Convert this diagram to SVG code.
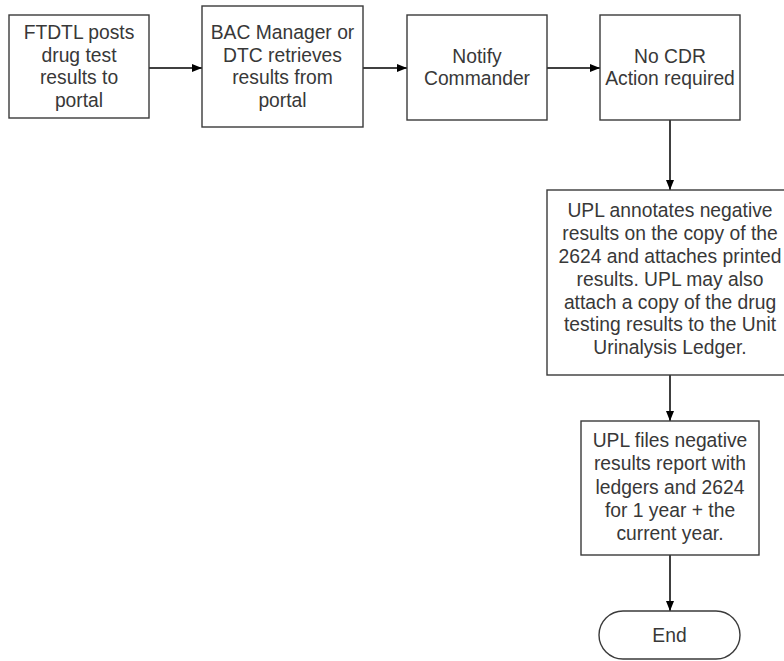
<svg xmlns="http://www.w3.org/2000/svg" width="784" height="661" viewBox="0 0 784 661">
<style>
.box{fill:#fff;stroke:#3a3a3a;stroke-width:1.4}
.t{font-family:"Liberation Sans",Arial,sans-serif;font-size:19.3px;fill:#383838;text-anchor:middle}
.c{fill:none;stroke:#000;stroke-width:1.5}
</style>
<defs>
<marker id="ah" viewBox="0 0 10 10" refX="10" refY="5" markerWidth="10" markerHeight="10" markerUnits="userSpaceOnUse" orient="auto">
<path d="M0,1 L10,5 L0,9 Z" fill="#000"/>
</marker>
</defs>
<rect width="784" height="661" fill="#fff"/>
<g id="connectors">
<line class="c" x1="149" y1="68" x2="202" y2="68" marker-end="url(#ah)"/>
<line class="c" x1="363" y1="68" x2="407" y2="68" marker-end="url(#ah)"/>
<line class="c" x1="547" y1="68" x2="600" y2="68" marker-end="url(#ah)"/>
<line class="c" x1="670" y1="120" x2="670" y2="190" marker-end="url(#ah)"/>
<line class="c" x1="670" y1="375" x2="670" y2="421" marker-end="url(#ah)"/>
<line class="c" x1="670" y1="555" x2="670" y2="611" marker-end="url(#ah)"/>
</g>
<g id="n1">
<rect class="box" x="9" y="15" width="140" height="103"/>
<text class="t" x="79"><tspan x="79" y="39">FTDTL posts</tspan><tspan x="79" y="61.5">drug test</tspan><tspan x="79" y="84">results to</tspan><tspan x="79" y="106.5">portal</tspan></text>
</g>
<g id="n2">
<rect class="box" x="202" y="6" width="161" height="121"/>
<text class="t" x="282.5"><tspan x="282.5" y="39">BAC Manager or</tspan><tspan x="282.5" y="61.5">DTC retrieves</tspan><tspan x="282.5" y="84">results from</tspan><tspan x="282.5" y="106.5">portal</tspan></text>
</g>
<g id="n3">
<rect class="box" x="407" y="15" width="140" height="105"/>
<text class="t" x="477"><tspan x="477" y="62.5">Notify</tspan><tspan x="477" y="85">Commander</tspan></text>
</g>
<g id="n4">
<rect class="box" x="600" y="15" width="140" height="105"/>
<text class="t" x="670"><tspan x="670" y="62.5">No CDR</tspan><tspan x="670" y="85">Action required</tspan></text>
</g>
<g id="n5">
<rect class="box" x="547" y="190" width="246" height="185"/>
<text class="t" x="670"><tspan x="670" y="217.3">UPL annotates negative</tspan><tspan x="670" y="240.1">results on the copy of the</tspan><tspan x="670" y="262.9">2624 and attaches printed</tspan><tspan x="670" y="285.7">results. UPL may also</tspan><tspan x="670" y="308.5">attach a copy of the drug</tspan><tspan x="670" y="331.3">testing results to the Unit</tspan><tspan x="670" y="354.1">Urinalysis Ledger.</tspan></text>
</g>
<g id="n6">
<rect class="box" x="581" y="421" width="178" height="134"/>
<text class="t" x="670"><tspan x="670" y="447">UPL files negative</tspan><tspan x="670" y="470.3">results report with</tspan><tspan x="670" y="493.6">ledgers and 2624</tspan><tspan x="670" y="516.9">for 1 year + the</tspan><tspan x="670" y="540.2">current year.</tspan></text>
</g>
<g id="end">
<rect class="box" x="599" y="611" width="141" height="48" rx="24" ry="24"/>
<text class="t" x="669.5" y="642">End</text>
</g>
</svg>
